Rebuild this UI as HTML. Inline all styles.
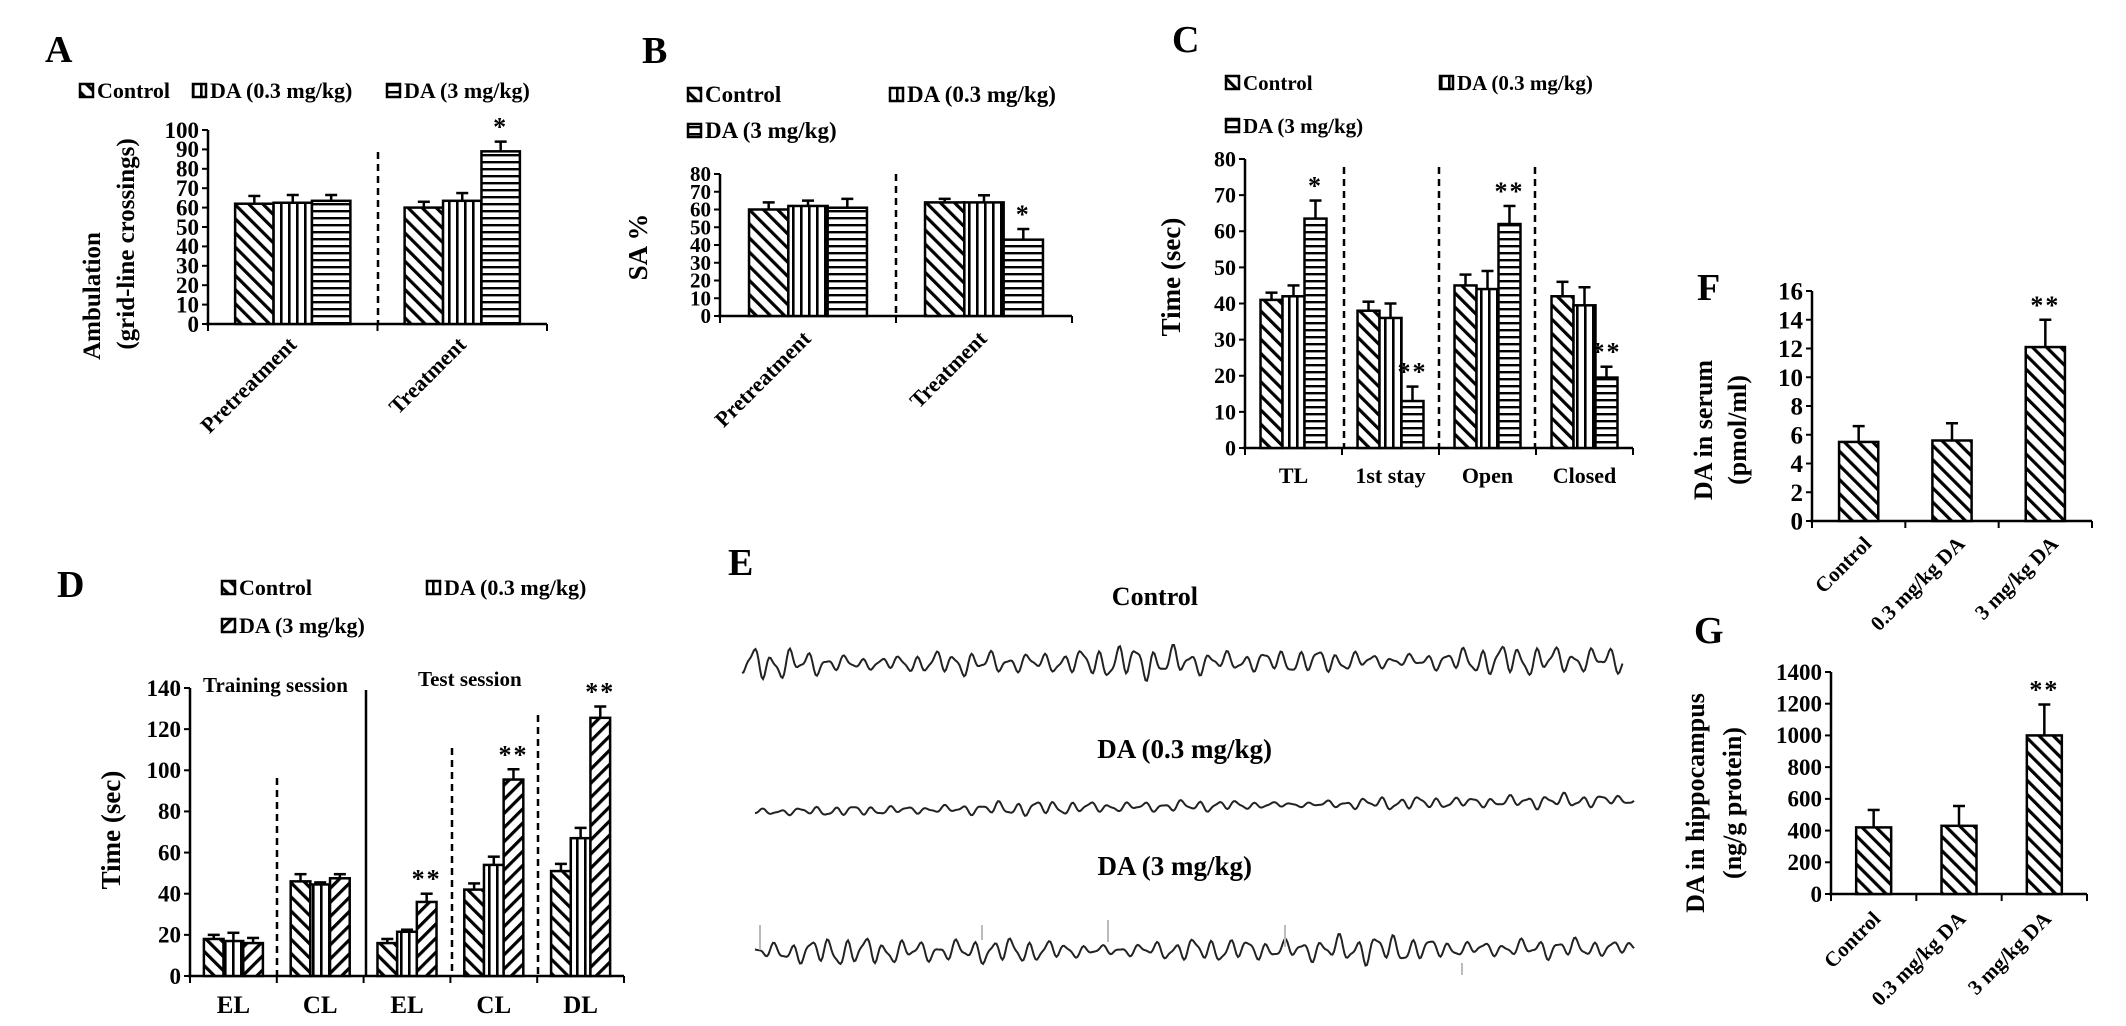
<!DOCTYPE html>
<html><head><meta charset="utf-8"><style>
html,body{margin:0;padding:0;background:#fff;}
svg{display:block;}
text{font-family:"Liberation Serif",serif;font-weight:bold;fill:#000;}
</style></head><body>
<svg id="fig" width="2126" height="1026" viewBox="0 0 2126 1026" xmlns="http://www.w3.org/2000/svg">
<defs>
<pattern id="pBack" patternUnits="userSpaceOnUse" width="10" height="10" patternTransform="rotate(-45)"><rect width="10" height="10" fill="#fff"/><rect x="0" y="0" width="3.2" height="10" fill="#000"/></pattern>
<pattern id="pFwd" patternUnits="userSpaceOnUse" width="10" height="10" patternTransform="rotate(45)"><rect width="10" height="10" fill="#fff"/><rect x="0" y="0" width="3.2" height="10" fill="#000"/></pattern>
<pattern id="pVert" patternUnits="userSpaceOnUse" width="8" height="8"><rect width="8" height="8" fill="#fff"/><rect x="0" y="0" width="2.6" height="8" fill="#000"/></pattern>
<pattern id="pHorz" patternUnits="userSpaceOnUse" width="8" height="7"><rect width="8" height="7" fill="#fff"/><rect x="0" y="0" width="8" height="2.4" fill="#000"/></pattern>
</defs>
</svg>
<script>
// ---------- Panel A data ----------
const aCats = ["Pretreatment", "Treatment"];
const aControl = [62, 60];
const aLow = [62.5, 63.5];
const aHigh = [63.5, 89];
const aControlErr = [4, 3];
const aLowErr = [4, 4];
const aHighErr = [3, 5];
const aTicks = [0,10,20,30,40,50,60,70,80,90,100];
// ---------- Panel B data ----------
const bCats = ["Pretreatment", "Treatment"];
const bControl = [60, 64];
const bLow = [62, 64];
const bHigh = [61, 43];
const bControlErr = [4, 2];
const bLowErr = [3, 4];
const bHighErr = [5, 6];
const bTicks = [0,10,20,30,40,50,60,70,80];
// ---------- Panel C data ----------
const cCats = ["TL", "1st stay", "Open", "Closed"];
const cControl = [41, 38, 45, 42];
const cLow = [42, 36, 44, 39.5];
const cHigh = [63.5, 13, 62, 19.5];
const cControlErr = [2, 2.5, 3, 4];
const cLowErr = [3, 4, 5, 5];
const cHighErr = [5, 4, 5, 3];
const cTicks = [0,10,20,30,40,50,60,70,80];
// ---------- Panel D data ----------
const dCats = ["EL", "CL", "EL", "CL", "DL"];
const dControl = [18, 46, 16, 42, 51];
const dLow = [17, 44.5, 21.5, 54, 67];
const dHigh = [16, 47.5, 36, 95.5, 125.5];
const dControlErr = [2, 3.5, 2, 3, 3.5];
const dLowErr = [4, 1, 1, 4, 5];
const dHighErr = [2.5, 2, 4, 5, 5.5];
const dTicks = [0,20,40,60,80,100,120,140];
// ---------- Panel F data ----------
const fCats = ["Control", "0.3 mg/kg DA", "3 mg/kg DA"];
const fValues = [5.5, 5.6, 12.1];
const fErr = [1.1, 1.2, 1.9];
const fTicks = [0,2,4,6,8,10,12,14,16];
// ---------- Panel G data ----------
const gCats = ["Control", "0.3 mg/kg DA", "3 mg/kg DA"];
const gValues = [420, 430, 1000];
const gErr = [110, 125, 195];
const gTicks = [0,200,400,600,800,1000,1200,1400];

const NS = "http://www.w3.org/2000/svg";
const svg = document.getElementById('fig');
function mk(tag, attrs, parent) {
  const el = document.createElementNS(NS, tag);
  for (const k in attrs) el.setAttribute(k, attrs[k]);
  (parent || svg).appendChild(el);
  return el;
}
function txt(x, y, s, size, parent, extra) {
  const t = mk('text', Object.assign({x: x, y: y, 'font-size': size}, extra || {}), parent);
  t.textContent = s;
  return t;
}

function drawPanel(c) {
  const g = mk('g', {});
  
  
  const yS = v => c.y0 - (v / c.max) * (c.y0 - c.yTop);
  const band = (c.x1 - c.x0) / c.cats.length;
  const ax = mk('line', {x1: c.x0, y1: c.y0, x2: c.x0, y2: yS(c.max), stroke: '#000', 'stroke-width': 2.5}, g);
  
  
  c.ticks.forEach(t => {
    mk('line', {x1: c.x0 - 6, y1: yS(t), x2: c.x0, y2: yS(t), stroke: '#000', 'stroke-width': 2}, g);
    const tl = txt(c.x0 - 9, yS(t) + c.tickFont * 0.34, String(t), c.tickFont, g, {'text-anchor': 'end'});
    
    
  });
  const xa = mk('line', {x1: c.x0 - 2, y1: c.y0, x2: c.x1, y2: c.y0, stroke: '#000', 'stroke-width': 2.5}, g);
  
  
  for (let i = 0; i <= c.cats.length; i++) {
    mk('line', {x1: c.x0 + i * band, y1: c.y0, x2: c.x0 + i * band, y2: c.y0 + 7, stroke: '#000', 'stroke-width': 2}, g);
  }
  const nS = c.series.length;
  const gw = band * c.frac;
  const bw = gw / nS;
  c.cats.forEach((cat, i) => {
    const gx = c.x0 + i * band + (band - gw) / 2;
    c.series.forEach((s, j) => {
      const v = s.vals[i], e = s.errs[i];
      const x = gx + j * bw;
      const top = yS(v);
      const etop = yS(v + e);
      const el = mk('line', {x1: x + bw / 2, y1: top, x2: x + bw / 2, y2: etop, stroke: '#000', 'stroke-width': 2.5}, g);
      
      
      mk('line', {x1: x + bw / 2 - 6, y1: etop, x2: x + bw / 2 + 6, y2: etop, stroke: '#000', 'stroke-width': 2.5}, g);
      const r = mk('rect', {x: x, y: top, width: bw, height: c.y0 - top, fill: 'url(#' + s.pat + ')', stroke: '#000', 'stroke-width': 2.5}, g);
      
      
      const star = c.stars && c.stars[j] && c.stars[j][i];
      if (star) {
        const st = txt(x + bw / 2, etop - 6, star, c.starFont || 26, g, {'text-anchor': 'middle', 'font-weight': 'normal', 'letter-spacing': '2'});
        
        
      }
    });
    const cx = c.x0 + i * band + band / 2;
    if (c.rotLabels) {
      const lx = cx + c.rotDx, ly = c.y0 + c.rotDy;
      const tl = txt(lx, ly, cat, c.labelFont, g, {'text-anchor': 'end', transform: 'rotate(-45 ' + lx + ' ' + ly + ')'});
      
      
    } else {
      const tl = txt(cx, c.y0 + c.labelDy, cat, c.labelFont, g, {'text-anchor': 'middle'});
      
      
    }
  });
  return g;
}

function dashed(x, y1, y2, name) {
  const l = mk('line', {x1: x, y1: y1, x2: x, y2: y2, stroke: '#000', 'stroke-width': 2.5, 'stroke-dasharray': '7 5'});
  
  
}
function legendEntry(x, y, pat, label, size, name) {
  const g = mk('g', {});
  
  
  mk('rect', {x: x, y: y - 14, width: 13, height: 13, fill: 'url(#' + pat + ')', stroke: '#000', 'stroke-width': 2.5}, g);
  txt(x + 17, y, label, size, g);
}
function vtitle(x, y, s, size, name) {
  const t = txt(x, y, s, size, null, {'text-anchor': 'middle', transform: 'rotate(-90 ' + x + ' ' + y + ')'});
  
  
}
function plabel(x, y, s) {
  const t = txt(x, y, s, 38);
  
  
}

// ===== Panel A =====
plabel(45, 62, 'A');
legendEntry(80, 98, 'pBack', 'Control', 22, 'legend-entry-control');
legendEntry(193, 98, 'pVert', 'DA (0.3 mg/kg)', 22, 'legend-entry-da-0-3');
legendEntry(387, 98, 'pHorz', 'DA (3 mg/kg)', 22, 'legend-entry-da-3');
dashed(378, 152, 324, 'group-separator');
drawPanel({name: 'chart-a', x0: 208, x1: 547, y0: 324, yTop: 130, max: 100, ticks: aTicks, tickFont: 23, cats: aCats, frac: 0.68,
  series: [{key: 'control', vals: aControl, errs: aControlErr, pat: 'pBack'}, {key: 'da03', vals: aLow, errs: aLowErr, pat: 'pVert'}, {key: 'da3', vals: aHigh, errs: aHighErr, pat: 'pHorz'}],
  stars: [null, null, [null, '*']], rotLabels: true, rotDx: 5, rotDy: 22, labelFont: 22});
vtitle(100, 296, 'Ambulation', 25, 'y-axis-title');
vtitle(134, 244, '(grid-line crossings)', 25, 'y-axis-title');

// ===== Panel B =====
plabel(642, 63, 'B');
legendEntry(688, 102, 'pBack', 'Control', 23, 'legend-entry-control');
legendEntry(890, 102, 'pVert', 'DA (0.3 mg/kg)', 23, 'legend-entry-da-0-3');
legendEntry(688, 138, 'pHorz', 'DA (3 mg/kg)', 23, 'legend-entry-da-3');
dashed(896, 174, 316, 'group-separator');
drawPanel({name: 'chart-b', x0: 720, x1: 1072, y0: 316, yTop: 174, max: 80, ticks: bTicks, tickFont: 21, cats: bCats, frac: 0.67,
  series: [{key: 'control', vals: bControl, errs: bControlErr, pat: 'pBack'}, {key: 'da03', vals: bLow, errs: bLowErr, pat: 'pVert'}, {key: 'da3', vals: bHigh, errs: bHighErr, pat: 'pHorz'}],
  stars: [null, null, [null, '*']], rotLabels: true, rotDx: 4, rotDy: 24, labelFont: 22});
vtitle(647, 247, 'SA %', 27, 'y-axis-title');

// ===== Panel C =====
plabel(1172, 52, 'C');
legendEntry(1226, 90, 'pBack', 'Control', 21, 'legend-entry-control');
legendEntry(1440, 90, 'pVert', 'DA (0.3 mg/kg)', 21, 'legend-entry-da-0-3');
legendEntry(1226, 133, 'pHorz', 'DA (3 mg/kg)', 21, 'legend-entry-da-3');
dashed(1344, 167, 448, 'group-separator');
dashed(1439, 167, 448, 'group-separator');
dashed(1535, 167, 448, 'group-separator');
drawPanel({name: 'chart-c', x0: 1245, x1: 1633, y0: 448, yTop: 159, max: 80, ticks: cTicks, tickFont: 22, cats: cCats, frac: 0.68,
  series: [{key: 'control', vals: cControl, errs: cControlErr, pat: 'pBack'}, {key: 'da03', vals: cLow, errs: cLowErr, pat: 'pVert'}, {key: 'da3', vals: cHigh, errs: cHighErr, pat: 'pHorz'}],
  stars: [null, null, ['*', '**', '**', '**']], rotLabels: false, labelDy: 35, labelFont: 22});
vtitle(1180, 277, 'Time (sec)', 27, 'y-axis-title');

// ===== Panel D =====
plabel(57, 597, 'D');
legendEntry(222, 595, 'pBack', 'Control', 22, 'legend-entry-control');
legendEntry(427, 595, 'pVert', 'DA (0.3 mg/kg)', 22, 'legend-entry-da-0-3');
legendEntry(222, 633, 'pFwd', 'DA (3 mg/kg)', 22, 'legend-entry-da-3');
(function(){ const l = mk('line', {x1: 366, y1: 690, x2: 366, y2: 977, stroke: '#000', 'stroke-width': 2.5});
    })();
dashed(277, 778, 977, 'group-separator');
dashed(452, 748, 977, 'group-separator');
dashed(538, 715, 977, 'group-separator');
(function(){ const t = txt(203, 692, 'Training session', 21);  
  const u = txt(418, 686, 'Test session', 21);   })();
drawPanel({name: 'chart-d', x0: 190, x1: 624, y0: 976, yTop: 688, max: 140, ticks: dTicks, tickFont: 23, cats: dCats, frac: 0.68,
  series: [{key: 'control', vals: dControl, errs: dControlErr, pat: 'pBack'}, {key: 'da03', vals: dLow, errs: dLowErr, pat: 'pVert'}, {key: 'da3', vals: dHigh, errs: dHighErr, pat: 'pFwd'}],
  stars: [null, null, [null, null, '**', '**', '**']], rotLabels: false, labelDy: 37, labelFont: 25});
vtitle(120, 830, 'Time (sec)', 27, 'y-axis-title');

// ===== Panel F =====
plabel(1697, 300, 'F');
drawPanel({name: 'chart-f', x0: 1812, x1: 2092, y0: 521, yTop: 291, max: 16, ticks: fTicks, tickFont: 25, cats: fCats, frac: 0.42,
  series: [{key: 'serum', vals: fValues, errs: fErr, pat: 'pBack'}],
  stars: [[null, null, '**']], rotLabels: true, rotDx: 14, rotDy: 24, labelFont: 21});
vtitle(1712, 430, 'DA in serum', 26, 'y-axis-title');
vtitle(1746, 430, '(pmol/ml)', 26, 'y-axis-title');

// ===== Panel G =====
plabel(1694, 643, 'G');
drawPanel({name: 'chart-g', x0: 1831, x1: 2087, y0: 894, yTop: 672, max: 1400, ticks: gTicks, tickFont: 23, cats: gCats, frac: 0.41,
  series: [{key: 'hippocampus', vals: gValues, errs: gErr, pat: 'pBack'}],
  stars: [[null, null, '**']], rotLabels: true, rotDx: 8, rotDy: 26, labelFont: 21});
vtitle(1704, 803, 'DA in hippocampus', 26, 'y-axis-title');
vtitle(1741, 803, '(ng/g protein)', 26, 'y-axis-title');

// ===== Panel E (EEG traces) =====
plabel(728, 575, 'E');
function trace(name, x0, x1, yc, drift, amp, seed) {
  let d = '';
  const n = Math.round((x1 - x0) / 1.5);
  for (let k = 0; k <= n; k++) {
    const t = k * 1.5;
    const x = x0 + t;
    const env = 0.65 + 0.35 * Math.sin(t / 97 + seed) * Math.sin(t / 41 + seed * 2);
    const y = yc + drift * (k / n) + amp * env * (Math.sin(t / 2.9 + seed) * 0.75 + Math.sin(t / 1.7 + seed * 3) * 0.3 + Math.sin(t / 7.5 + seed * 5) * 0.3);
    d += (k ? 'L' : 'M') + x.toFixed(1) + ' ' + y.toFixed(1);
  }
  const p = mk('path', {d: d, fill: 'none', stroke: '#222', 'stroke-width': 2});
  
  
}
(function(){
  const a = txt(1198, 605, 'Control', 26, null, {'text-anchor': 'end'});  
  const b = txt(1272, 758, 'DA (0.3 mg/kg)', 27, null, {'text-anchor': 'end'});  
  const c = txt(1252, 875, 'DA (3 mg/kg)', 27, null, {'text-anchor': 'end'});  
})();
trace('eeg-trace-control', 742, 1622, 664, -4, 16, 0.7);
trace('eeg-trace-da-0-3', 755, 1634, 812, -12, 7, 2.1);
trace('eeg-trace-da-3', 755, 1634, 952, -4, 14, 4.3);
[[1108, 920, 942], [1285, 925, 947], [1462, 963, 975], [760, 925, 950], [982, 925, 940]].forEach(m => {
  const l = mk('line', {x1: m[0], y1: m[1], x2: m[0], y2: m[2], stroke: '#bbb', 'stroke-width': 2});
  
  
});
</script>
</body></html>
